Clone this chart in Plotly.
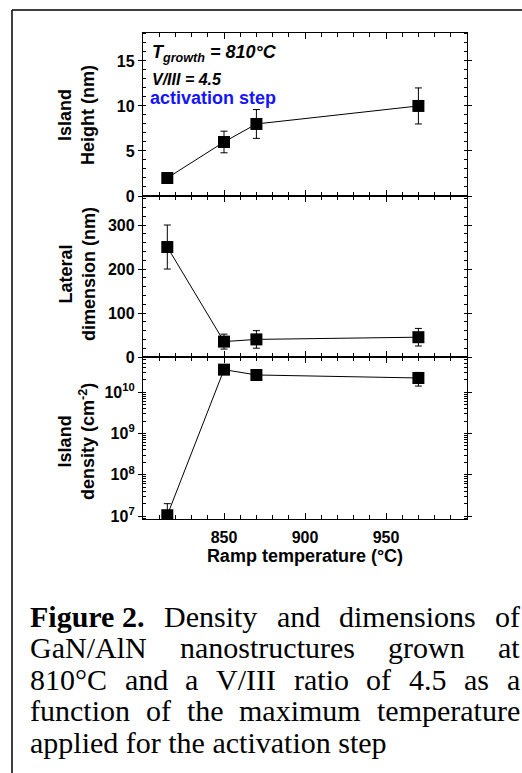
import plotly.graph_objects as go
from plotly.subplots import make_subplots

# ---------------- data ----------------
ramp_temp = [815, 850, 870, 970]
island_height = [2.0, 6.0, 8.0, 10.0]
island_height_err = [0.4, 1.2, 1.6, 2.0]
lateral_dim = [250, 35, 40, 45]
lateral_dim_err = [50, 17, 20, 20]
island_density = [1.05e7, 3.5e10, 2.6e10, 2.2e10]
island_density_err_plus = [0.95e7, 5e9, 5e9, 8e9]
island_density_err_minus = [0.5e7, 5e9, 5e9, 8e9]

x_ticks = [850, 900, 950]
height_ticks = [0, 5, 10, 15]
lateral_ticks = [0, 100, 200, 300]
density_ticks = [1e7, 1e8, 1e9, 1e10]
density_ticktext = ["10<sup>7</sup>", "10<sup>8</sup>", "10<sup>9</sup>", "10<sup>10</sup>"]

caption_lines = [
    [("Figure 2.", True), ("Density", False), ("and", False), ("dimensions", False), ("of", False)],
    [("GaN/AlN", False), ("nanostructures", False), ("grown", False), ("at", False)],
    [("810°C", False), ("and", False), ("a", False), ("V/III", False), ("ratio", False),
     ("of", False), ("4.5", False), ("as", False), ("a", False)],
    [("function", False), ("of", False), ("the", False), ("maximum", False), ("temperature", False)],
    [("applied for the activation step", False)],
]

# ---------------- geometry ----------------
W, H = 522, 773
ML, MR, MT, MB = 143, 55, 33, 254
PW = W - ML - MR
PH = H - MT - MB


def px(xp):
    return (xp - ML) / PW


def py(yp):
    return (H - MB - yp) / PH


fig = make_subplots(rows=3, cols=1, shared_xaxes=True, vertical_spacing=0)

common_marker = dict(symbol="square", size=12, color="black")
common_line = dict(color="black", width=1)

fig.add_trace(go.Scatter(x=ramp_temp, y=island_height, mode="lines+markers",
                         marker=common_marker, line=common_line,
                         error_y=dict(type="data", array=island_height_err, color="black",
                                      thickness=1, width=3.5),
                         showlegend=False), row=1, col=1)
fig.add_trace(go.Scatter(x=ramp_temp, y=lateral_dim, mode="lines+markers",
                         marker=common_marker, line=common_line,
                         error_y=dict(type="data", array=lateral_dim_err, color="black",
                                      thickness=1, width=3.5),
                         showlegend=False), row=2, col=1)
fig.add_trace(go.Scatter(x=ramp_temp, y=island_density, mode="lines+markers",
                         marker=common_marker, line=common_line,
                         error_y=dict(type="data", array=island_density_err_plus,
                                      arrayminus=island_density_err_minus, symmetric=False,
                                      color="black", thickness=1, width=3.5),
                         showlegend=False), row=3, col=1)

sans = "Liberation Sans, Arial, sans-serif"
serif = "Liberation Serif, Times New Roman, serif"
tickfont = dict(family=sans, size=16, color="black", weight="bold")

for r in (1, 2, 3):
    fig.update_xaxes(range=[800, 1000], tickmode="array", tickvals=x_ticks,
                     ticks="inside", ticklen=6, tickwidth=1.2, tickcolor="black",
                     showline=True, linecolor="black", linewidth=1.3, mirror="ticks",
                     showgrid=False, zeroline=False, tickfont=tickfont, ticklabelstandoff=4,
                     minor=dict(ticks="inside", ticklen=3.5, tickwidth=1, tickcolor="black",
                                dtick=10, tick0=800, showgrid=False),
                     row=r, col=1)

ycommon = dict(ticks="outside", ticklen=4, tickwidth=1.2, tickcolor="black",
               showline=True, linecolor="black", linewidth=1.3, mirror="ticks",
               showgrid=False, zeroline=False, tickfont=tickfont)

fig.update_yaxes(range=[0, 18.1], tickmode="array", tickvals=height_ticks,
                 minor=dict(ticks="inside", ticklen=3, tickwidth=1, tickcolor="black",
                            dtick=1, tick0=0, showgrid=False),
                 domain=[py(196), 1], **ycommon, row=1, col=1)
fig.update_yaxes(range=[0, 366], tickmode="array", tickvals=lateral_ticks,
                 minor=dict(ticks="inside", ticklen=3, tickwidth=1, tickcolor="black",
                            dtick=20, tick0=0, showgrid=False),
                 domain=[py(357), py(196)], **ycommon, row=2, col=1)
fig.update_yaxes(type="log", range=[6.93, 10.85], tickmode="array", tickvals=density_ticks,
                 ticktext=density_ticktext,
                 minor=dict(ticks="inside", ticklen=3, tickwidth=1, tickcolor="black",
                            dtick="D1", showgrid=False),
                 domain=[0, py(357)], **ycommon, row=3, col=1)

fig.update_xaxes(title=dict(text="Ramp temperature (°C)",
                            font=dict(family=sans, size=18, color="black", weight="bold"),
                            standoff=2),
                 row=3, col=1)

title_font = dict(family=sans, size=18, color="black", weight="bold")
annotations = []
for text, xc, yc in [("Island<br>Height (nm)", 76, 115),
                     ("Lateral<br>dimension (nm)", 77, 274),
                     ("Island<br>density (cm<sup>-2</sup>)", 76, 442)]:
    annotations.append(dict(text=text, xref="paper", yref="paper", x=px(xc), y=py(yc),
                            xanchor="center", yanchor="middle", textangle=-90,
                            showarrow=False, font=title_font, align="center"))

annotations.append(dict(text="<b><i>T<sub>growth</sub> = 810°C</i></b>", xref="paper", yref="paper",
                        x=px(150), y=py(53), xanchor="left", yanchor="middle", showarrow=False,
                        font=dict(family=sans, size=18, color="black")))
annotations.append(dict(text="<b><i>V/III = 4.5</i></b>", xref="paper", yref="paper",
                        x=px(150), y=py(79), xanchor="left", yanchor="middle", showarrow=False,
                        font=dict(family=sans, size=16, color="black")))
annotations.append(dict(text="<b>activation step</b>", xref="paper", yref="paper",
                        x=px(148), y=py(98), xanchor="left", yanchor="middle", showarrow=False,
                        font=dict(family=sans, size=18, color="#1414ff")))

# ---------------- caption (justified) ----------------
reg = {' ': 250, 'a': 444, 'b': 500, 'c': 444, 'd': 500, 'e': 444, 'f': 333, 'g': 500,
       'h': 500, 'i': 278, 'l': 278, 'm': 778, 'n': 500, 'o': 500, 'p': 500, 'r': 333,
       's': 389, 't': 278, 'u': 500, 'v': 500, 'w': 722, 'x': 500, 'y': 500, 'A': 722,
       'C': 667, 'D': 722, 'G': 722, 'I': 333, 'N': 722, 'V': 722, '/': 278, '.': 250,
       '°': 400}
bold = {' ': 250, 'F': 611, 'i': 278, 'g': 500, 'u': 556, 'r': 444, 'e': 444, '.': 250}


def wlen(s, is_bold, size):
    t = bold if is_bold else reg
    return sum(t.get(c, 500) for c in s) / 1000.0 * size


cap_size = 30
cap_left, cap_right = 29, 519
cap_base0, cap_step = 616, 31.5
for i, line in enumerate(caption_lines):
    yc = cap_base0 + i * cap_step
    widths = [wlen(w, b, cap_size) for w, b in line]
    if len(line) > 1 and i < len(caption_lines) - 1:
        gap = (cap_right - cap_left - sum(widths)) / (len(line) - 1)
    else:
        gap = 0
    xcur = cap_left
    for (w, b), wd in zip(line, widths):
        annotations.append(dict(text=("<b>%s</b>" % w) if b else w, xref="paper", yref="paper",
                                x=px(xcur), y=py(yc), xanchor="left", yanchor="middle",
                                showarrow=False, borderpad=0,
                                font=dict(family=serif, size=cap_size, color="black")))
        xcur += wd + gap

shapes = [
    dict(type="line", xref="paper", yref="paper", x0=px(12), x1=px(W + 5), y0=py(10), y1=py(10),
         line=dict(color="black", width=1.5)),
    dict(type="line", xref="paper", yref="paper", x0=px(12), x1=px(12), y0=py(10), y1=py(H + 5),
         line=dict(color="black", width=1.5)),
]

fig.update_layout(width=W, height=H, margin=dict(l=ML, r=MR, t=MT, b=MB),
                  paper_bgcolor="white", plot_bgcolor="white",
                  annotations=annotations, shapes=shapes, showlegend=False)

fig.write_html("out.html")
